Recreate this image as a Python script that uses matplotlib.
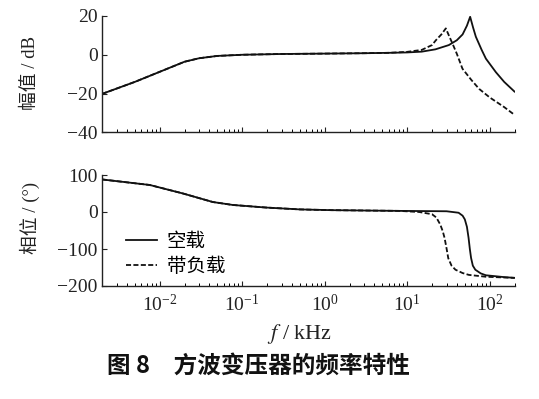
import matplotlib
matplotlib.use("Agg")
import matplotlib.pyplot as plt
from matplotlib.ticker import LogLocator, NullFormatter

plt.rcParams['mathtext.fontset'] = 'stix'
plt.rcParams['font.family'] = ['Liberation Serif', 'Noto Sans CJK SC']

# ---- data (frequency in kHz) ----
mag_noload_f = [0.002, 0.005, 0.01, 0.02, 0.03, 0.05, 0.1, 0.3, 1, 3, 6, 10, 15, 22, 32, 40, 47, 53, 58, 63, 68, 80, 90, 119, 150, 200]
mag_noload_db = [-20.2, -14, -8.8, -3.6, -1.8, -0.6, 0, 0.4, 0.6, 0.8, 1.0, 1.2, 1.6, 2.8, 5, 7.5, 10.5, 15, 19.6, 14, 9.3, 2.5, -2, -9, -14, -19]

mag_load_f = [0.002, 0.005, 0.01, 0.02, 0.03, 0.05, 0.1, 0.3, 1, 3, 6, 10, 15, 20, 22.3, 26, 29.4, 32, 35.4, 40, 46.8, 60, 74.5, 100, 150, 200]
mag_load_db = [-20.2, -14, -8.8, -3.6, -1.8, -0.6, 0, 0.4, 0.6, 0.8, 1.0, 1.5, 2.5, 5, 7.5, 10.5, 13.6, 10, 5.8, 0.5, -7.2, -13, -17.6, -22, -27, -31]

ph_noload_f = [0.002, 0.0076, 0.0192, 0.044, 0.077, 0.196, 0.5, 1.2, 8, 30, 42, 47, 50, 53, 55.5, 57.5, 59.5, 62.5, 67, 78, 90, 150, 200]
ph_noload_deg = [88, 73, 50, 27, 19, 12, 7, 5, 3, 2, -2, -10, -20, -40, -70, -100, -124, -145, -156, -166, -171, -176, -178]

ph_load_f = [0.002, 0.0076, 0.0192, 0.044, 0.077, 0.196, 0.5, 1.2, 8, 14, 20, 22.6, 25.2, 27, 28.4, 30, 31.5, 34.5, 38.5, 47, 56, 90, 150, 200]
ph_load_deg = [88, 73, 50, 27, 19, 12, 7, 5, 3, 0, -6, -15, -34, -52, -70, -98, -125, -145, -156, -165, -170, -175, -177, -178]

labels = ['空载', '带负载']
x_lim = (0.002, 200)
mag_ticks = [-40, -20, 0, 20]
ph_ticks = [-200, -100, 0, 100]

W, H = 539, 399
fig = plt.figure(figsize=(W / 100, H / 100), dpi=100)

L, R = 102, 514.5
ax1 = fig.add_axes([L / W, 1 - 132.3 / H, (R - L) / W, (132.3 - 16) / H])
ax2 = fig.add_axes([L / W, 1 - 286 / H, (R - L) / W, (286 - 175) / H])

lw = 1.3
dash = (0, (2.8, 1.3))
ax1.plot(mag_noload_f, mag_noload_db, color='#111111', lw=lw)
ax1.plot(mag_load_f, mag_load_db, color='#111111', lw=lw, linestyle=dash)
ax2.plot(ph_noload_f, ph_noload_deg, color='#111111', lw=lw, label=labels[0])
ax2.plot(ph_load_f, ph_load_deg, color='#111111', lw=lw, linestyle=dash, label=labels[1])

for ax, yl, yt in [(ax1, (-40, 20), mag_ticks), (ax2, (-200, 100), ph_ticks)]:
    ax.set_xscale('log')
    ax.set_xlim(*x_lim)
    ax.set_ylim(*yl)
    ax.set_yticks(yt)
    ax.set_yticklabels([('\u2212' + str(abs(v))) if v < 0 else str(v) for v in yt])
    ax.spines['top'].set_visible(False)
    ax.spines['right'].set_visible(False)
    for s in ('left', 'bottom'):
        ax.spines[s].set_linewidth(1.0)
        ax.spines[s].set_color('#222222')
    ax.xaxis.set_major_locator(LogLocator(base=10, numticks=12))
    ax.xaxis.set_minor_locator(LogLocator(base=10, subs=range(2, 10), numticks=12))
    ax.xaxis.set_minor_formatter(NullFormatter())
    ax.tick_params(axis='both', which='major', direction='in', length=3.5, width=0.8,
                   labelsize=14, colors='#222222', pad=3)
    ax.tick_params(axis='x', which='minor', direction='in', length=2, width=0.7)
    ax.tick_params(axis='x', which='major', pad=6)

ax1.tick_params(axis='x', which='major', labelbottom=False)
ax2.set_xticks([1e-2, 1e-1, 1e0, 1e1, 1e2])
ax2.set_xticklabels([r'$\mathregular{10^{-2}}$', r'$\mathregular{10^{-1}}$', r'$\mathregular{10^{0}}$',
                     r'$\mathregular{10^{1}}$', r'$\mathregular{10^{2}}$'])

leg = ax2.legend(loc='center left', bbox_to_anchor=(0.058, 0.29), frameon=False,
                 prop={'family': ['Noto Sans CJK SC'], 'size': 14},
                 handlelength=1.6, handletextpad=0.5, labelspacing=0.22,
                 borderpad=0, borderaxespad=0)

fig.text(30 / W, 1 - 72.5 / H, '幅值 / dB', rotation=90, ha='center', va='center',
         fontsize=13.5, family=['Liberation Serif', 'Noto Sans CJK SC'], color='#222222')
fig.text(30 / W, 1 - 218 / H, '相位 / (°)', rotation=90, ha='center', va='center',
         fontsize=13.5, family=['Liberation Serif', 'Noto Sans CJK SC'], color='#222222')
fig.text(300 / W, 1 - 334 / H, r'$f$ / kHz', ha='center', va='center', fontsize=16, color='#222222')
fig.text(258 / W, 1 - 366 / H, '图 8\u3000方波变压器的频率特性', ha='center', va='center',
         fontsize=17, fontweight='bold', family=['Noto Sans CJK SC'], color='#111111')

fig.savefig('out.png', dpi=100)
